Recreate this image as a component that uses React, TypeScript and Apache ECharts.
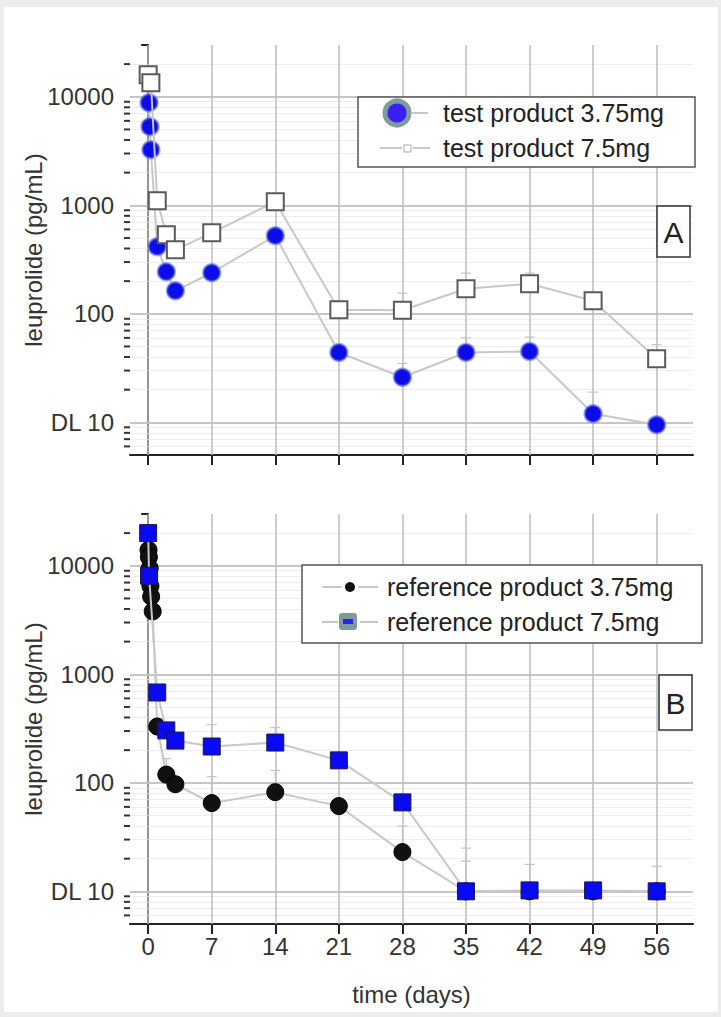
import React, { useEffect, useRef } from "react";
import * as echarts from "echarts";

// ---- Data ----
const xTicks = [0, 7, 14, 21, 28, 35, 42, 49, 56];

// Panel A
const testLowDays = [0.1, 0.2, 0.3, 1, 2, 3, 7, 14, 21, 28, 35, 42, 49, 56];
const testLowVals = [8800, 5300, 3250, 415, 244, 163, 239, 524, 44, 26, 44, 45, 12, 9.5];
const testHighDays = [0, 0.3, 1, 2, 3, 7, 14, 21, 28, 35, 42, 49, 56];
const testHighVals = [16000, 13500, 1100, 535, 389, 558, 1077, 109, 108, 170, 189, 132, 38.5];

// Panel A upper error bars
const testLowErrDays = [28, 35, 42, 49];
const testLowErrTop = [35, 60, 61, 19];
const testHighErrDays = [28, 35, 42, 56];
const testHighErrTop = [155, 237, 237, 52];

// Panel B
const refLowDays = [0.04, 0.08, 0.17, 0.25, 0.33, 0.5, 1, 2, 3, 7, 14, 21, 28, 35, 42, 49, 56];
const refLowVals = [14000, 12000, 9500, 6500, 5200, 3800, 330, 119, 97, 65, 82, 61, 23, 10, 10, 10, 10];
const refHighDays = [0, 0.1, 1, 2, 3, 7, 14, 21, 28, 35, 42, 49, 56];
const refHighVals = [20000, 8100, 680, 304, 245, 216, 235, 161, 66, 10, 10.2, 10.2, 10];

// Panel B upper error bars
const refLowErrDays = [2, 7, 14, 28, 35];
const refLowErrTop = [167, 114, 130, 40, 19];
const refHighErrDays = [7, 14, 35, 42, 56];
const refHighErrTop = [344, 323, 25, 17.7, 17];

const majorY = [10, 100, 1000, 10000];
const yLabels: Record<number, string> = { 10: "DL 10", 100: "100", 1000: "1000", 10000: "10000" };

const FONT = "Liberation Sans, Arial, sans-serif";

const pairs = (xs: number[], ys: number[]) => xs.map((x, i) => [x, ys[i]]);

function errData(days: number[], tops: number[], seriesDays: number[], seriesVals: number[]) {
  return days.map((d, i) => [d, seriesVals[seriesDays.indexOf(d)], tops[i]]);
}

function minorValues(): number[] {
  const out: number[] = [];
  for (let d = 0; d <= 4; d++) {
    for (let k = 2; k <= 9; k++) {
      const v = k * Math.pow(10, d);
      if (v > 5 && v < 30000 && v !== 10) out.push(v);
    }
  }
  return out;
}

export default function App() {
  const ref = useRef<HTMLDivElement>(null);
  useEffect(() => {
    document.body.style.margin = "0";
    const chart = echarts.init(ref.current!, null, { renderer: "svg" });
    const minors = minorValues();

    const gridMarks = (i: number) => ({
      type: "line",
      xAxisIndex: i,
      yAxisIndex: i,
      data: [],
      silent: true,
      z: 1,
      markLine: {
        silent: true,
        z: 1,
        symbol: ["none", "none"],
        label: { show: false },
        animation: false,
        data: [
          ...minors.map((v) => ({ yAxis: v, lineStyle: { color: "#ededed", width: 1, type: "solid" } })),
          ...majorY.map((v) => ({ yAxis: v, lineStyle: { color: "#c6c6c6", width: 2, type: "solid" } })),
          ...xTicks.map((d) => ({ xAxis: d, lineStyle: { color: "#bdbdbd", width: 1.5, type: "solid" } })),
        ],
      },
    });

    const errSeries = (i: number, data: number[][]) => ({
      type: "custom",
      xAxisIndex: i,
      yAxisIndex: i,
      silent: true,
      z: 2,
      data,
      renderItem: (_p: any, api: any) => {
        const x = api.value(0);
        const mid = api.coord([x, api.value(1)]);
        const top = api.coord([x, api.value(2)]);
        const st = { stroke: "#c4c4c4", lineWidth: 1.2 };
        return {
          type: "group",
          children: [
            { type: "line", shape: { x1: mid[0], y1: mid[1], x2: top[0], y2: top[1] }, style: st },
            { type: "line", shape: { x1: top[0] - 5, y1: top[1], x2: top[0] + 5, y2: top[1] }, style: st },
          ],
        };
      },
    });

    const lineStyle = { color: "#c8c8c8", width: 2 };

    const xAxis = (i: number, labels: boolean) => ({
      type: "value",
      gridIndex: i,
      min: -2,
      max: 60,
      axisLine: { show: true, onZero: false, lineStyle: { color: "#222", width: 2 } },
      axisTick: { show: true, customValues: xTicks, length: 10, lineStyle: { color: "#222", width: 2 } },
      axisLabel: {
        show: labels,
        customValues: xTicks,
        fontSize: 24,
        color: "#333",
        fontFamily: FONT,
        margin: 10,
      },
      splitLine: { show: false },
      name: labels ? "time (days)" : "",
      nameLocation: "middle",
      nameGap: 58,
      nameMoveOverlap: false,
      nameTextStyle: { fontSize: 24, color: "#333", fontFamily: FONT },
    });

    const yAxis = (i: number) => ({
      type: "log",
      logBase: 10,
      gridIndex: i,
      min: 5,
      max: 30000,
      axisLine: { show: true, lineStyle: { color: "#222", width: 2 } },
      axisTick: { show: true, length: 7, lineStyle: { color: "#222", width: 2 } },
      axisLabel: {
        fontSize: 24,
        color: "#333",
        fontFamily: FONT,
        margin: 16,
        formatter: (v: number) => yLabels[Math.round(v)] ?? "",
      },
      splitLine: { show: false },
      name: "leuprolide (pg/mL)",
      nameLocation: "middle",
      nameGap: 85,
      nameMoveOverlap: false,
      nameTextStyle: { fontSize: 24, color: "#333", fontFamily: FONT },
    });

    const option: any = {
      animation: false,
      backgroundColor: "transparent",
      grid: [
        { left: 130, top: 45, width: 563, height: 410 },
        { left: 130, top: 514, width: 563, height: 410 },
      ],
      xAxis: [xAxis(0, false), xAxis(1, true)],
      yAxis: [yAxis(0), yAxis(1)],
      series: [
        gridMarks(0),
        gridMarks(1),
        errSeries(0, errData(testLowErrDays, testLowErrTop, testLowDays, testLowVals)),
        errSeries(0, errData(testHighErrDays, testHighErrTop, testHighDays, testHighVals)),
        errSeries(1, errData(refLowErrDays, refLowErrTop, refLowDays, refLowVals)),
        errSeries(1, errData(refHighErrDays, refHighErrTop, refHighDays, refHighVals)),
        {
          name: "test product 3.75mg",
          type: "line",
          xAxisIndex: 0,
          yAxisIndex: 0,
          data: pairs(testLowDays, testLowVals),
          symbol: "circle",
          symbolSize: 17,
          itemStyle: { color: "#0c0ce8", borderColor: "rgba(90,110,210,0.55)", borderWidth: 2.5 },
          lineStyle,
          z: 3,
        },
        {
          name: "test product 7.5mg",
          type: "line",
          xAxisIndex: 0,
          yAxisIndex: 0,
          data: pairs(testHighDays, testHighVals),
          symbol: "rect",
          symbolSize: 17,
          itemStyle: { color: "#ffffff", borderColor: "#5a5a5a", borderWidth: 2 },
          lineStyle,
          z: 4,
        },
        {
          name: "reference product 3.75mg",
          type: "line",
          xAxisIndex: 1,
          yAxisIndex: 1,
          data: pairs(refLowDays, refLowVals),
          symbol: "circle",
          symbolSize: 17,
          itemStyle: { color: "#111111", borderColor: "#000", borderWidth: 1 },
          lineStyle,
          z: 3,
        },
        {
          name: "reference product 7.5mg",
          type: "line",
          xAxisIndex: 1,
          yAxisIndex: 1,
          data: pairs(refHighDays, refHighVals),
          symbol: "rect",
          symbolSize: 17,
          itemStyle: { color: "#0a0af2", borderColor: "#1a1a40", borderWidth: 1 },
          lineStyle,
          z: 4,
        },
      ],
    };
    chart.setOption(option);

    // Minor log ticks on the y axes, placed through the axis scale
    const tickEls: any[] = [];
    [0, 1].forEach((i) => {
      const x0 = chart.convertToPixel({ xAxisIndex: i } as any, -2) as number;
      minors.forEach((v) => {
        const y = chart.convertToPixel({ yAxisIndex: i } as any, v) as number;
        tickEls.push({
          type: "line",
          z: 100,
          shape: { x1: x0 - 6, y1: y, x2: x0, y2: y },
          style: { stroke: "#333", lineWidth: 2 },
          silent: true,
        });
      });
    });

    const legendText = (x: number, y: number, text: string) => ({
      type: "text",
      z: 102,
      x,
      y,
      style: { text, fontSize: 25, fontFamily: FONT, fill: "#222", verticalAlign: "middle", align: "left" },
    });
    const seg = (x1: number, x2: number, y: number) => ({
      type: "line",
      z: 101,
      shape: { x1, y1: y, x2, y2: y },
      style: { stroke: "#c8c8c8", lineWidth: 2 },
    });
    const box = (x: number, y: number, w: number, h: number, stroke: string) => ({
      type: "rect",
      z: 100,
      shape: { x, y, width: w, height: h },
      style: { fill: "#fff", stroke, lineWidth: 1.5 },
    });

    const graphic = [
      ...tickEls,
      // Legend A
      box(358, 97, 337, 70, "#555"),
      seg(412, 428, 113),
      { type: "circle", z: 102, shape: { cx: 397, cy: 113, r: 12 }, style: { fill: "#3a1ff0", stroke: "#7f9c9c", lineWidth: 5 } },
      legendText(443, 113, "test product 3.75mg"),
      seg(380, 402, 148),
      { type: "rect", z: 102, shape: { x: 404, y: 145, width: 7, height: 7 }, style: { fill: "#fff", stroke: "#aaa", lineWidth: 1 } },
      seg(413, 430, 148),
      legendText(443, 148, "test product 7.5mg"),
      // Panel label A
      box(657, 206, 33, 51, "#333"),
      { type: "text", z: 102, x: 673.5, y: 232, style: { text: "A", fontSize: 30, fontFamily: FONT, fill: "#222", align: "center", verticalAlign: "middle" } },
      // Legend B
      box(302, 565, 400, 78, "#555"),
      seg(322, 342, 587),
      { type: "circle", z: 102, shape: { cx: 350, cy: 587, r: 5 }, style: { fill: "#111" } },
      seg(358, 378, 587),
      legendText(387, 587, "reference product 3.75mg"),
      seg(322, 338, 622),
      { type: "rect", z: 102, shape: { x: 339, y: 613, width: 18, height: 17, r: 3 }, style: { fill: "#7f9a9a" } },
      { type: "rect", z: 103, shape: { x: 343, y: 619, width: 10, height: 5 }, style: { fill: "#2a1ff5" } },
      seg(360, 378, 622),
      legendText(387, 622, "reference product 7.5mg"),
      // Panel label B
      box(659, 675, 33, 55, "#333"),
      { type: "text", z: 102, x: 675.5, y: 703, style: { text: "B", fontSize: 30, fontFamily: FONT, fill: "#222", align: "center", verticalAlign: "middle" } },
    ];
    chart.setOption({ graphic });

    return () => chart.dispose();
  }, []);

  return (
    <div style={{ position: "relative", width: 721, height: 1017, background: "#ececec", overflow: "hidden" }}>
      <div style={{ position: "absolute", left: 4, top: 7, width: 714, height: 1005, background: "#ffffff" }} />
      <div ref={ref} style={{ position: "absolute", left: 0, top: 0, width: 721, height: 1017 }} />
    </div>
  );
}
